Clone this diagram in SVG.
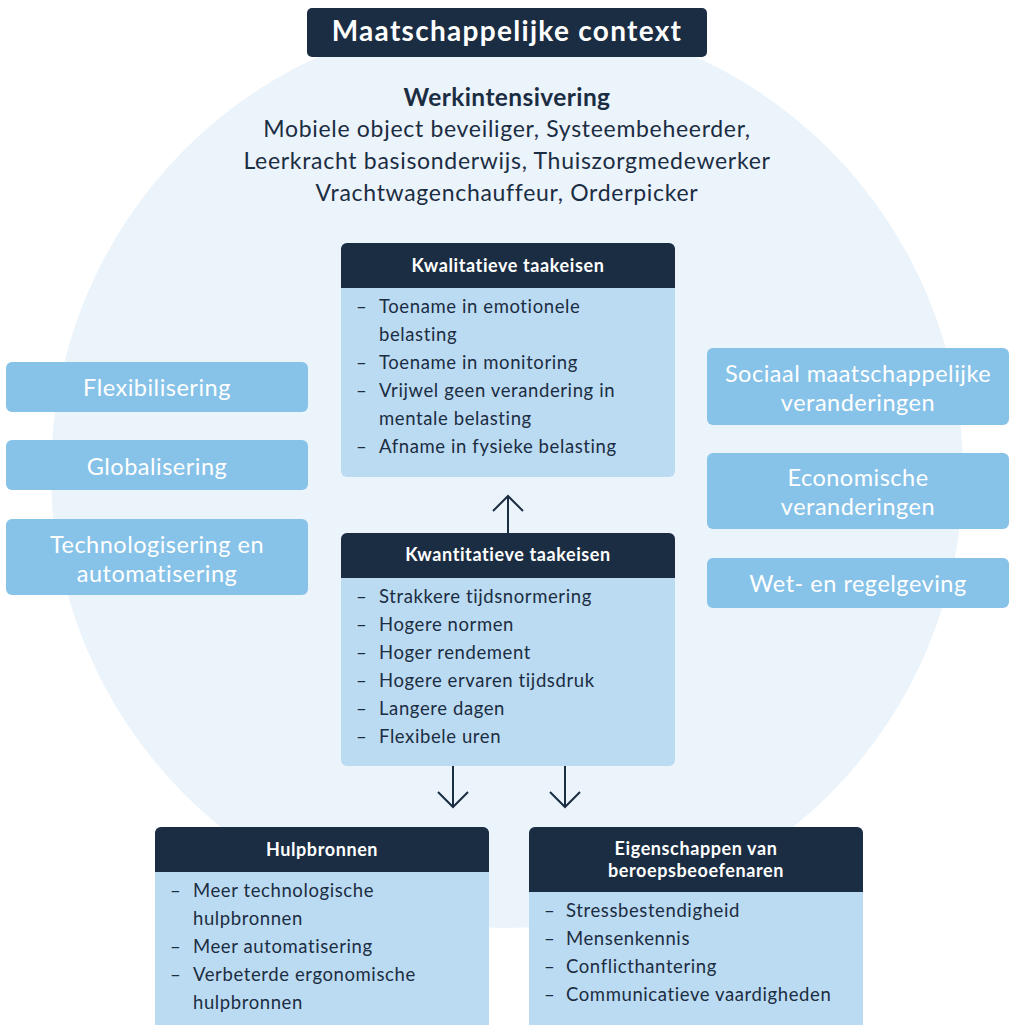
<svg xmlns="http://www.w3.org/2000/svg" width="1014" height="1025" viewBox="0 0 1014 1025">
  <defs>
    <style>
      .t { font-family: Lato, "Open Sans", "Liberation Sans", sans-serif; }
      .title { font-size: 28px; font-weight: 700; fill: #ffffff; letter-spacing: 1.3px; }
      .lead { font-size: 24.5px; font-weight: 700; fill: #1b2d42; letter-spacing: 0.4px; }
      .sub { font-size: 23px; fill: #1b2d42; letter-spacing: 0.7px; }
      .hdr { font-size: 18px; font-weight: 700; fill: #ffffff; letter-spacing: 0.6px; }
      .item { font-size: 18.5px; fill: #1b2d42; letter-spacing: 0.6px; }
      .pill { font-size: 23.5px; fill: #ffffff; letter-spacing: 0.5px; }
      .navy { fill: #1b2d42; }
      .body { fill: #bbdbf2; }
      .pillbox { fill: #87c2e8; }
      .conn { stroke: #1b2d42; stroke-width: 2; fill: none; }
    </style>
    <marker id="chev" viewBox="-16 -16 32 32" markerWidth="32" markerHeight="32" markerUnits="userSpaceOnUse" refX="0" refY="0" orient="auto">
      <path d="M -15 -15 L 0 0 L -15 15" fill="none" stroke="#1b2d42" stroke-width="2"/>
    </marker>
  </defs>

  <rect width="1014" height="1025" fill="#ffffff"/>

  <!-- context circle -->
  <circle cx="507" cy="472" r="456" fill="#ebf3fb"/>

  <!-- title -->
  <g id="title">
    <rect x="307" y="8" width="400" height="49" rx="5" class="navy"/>
    <text x="507" y="41" text-anchor="middle" class="t title">Maatschappelijke context</text>
  </g>

  <g id="werkintensivering" text-anchor="middle">
    <text x="507" y="106" class="t lead">Werkintensivering</text>
    <text x="507" y="137" class="t sub">Mobiele object beveiliger, Systeembeheerder,</text>
    <text x="507" y="169" class="t sub">Leerkracht basisonderwijs, Thuiszorgmedewerker</text>
    <text x="507" y="201" class="t sub">Vrachtwagenchauffeur, Orderpicker</text>
  </g>

  <!-- left-hand drivers -->
  <g id="flexibilisering">
    <rect x="6" y="362" width="302" height="50" rx="6" class="pillbox"/>
    <text x="157" y="396" text-anchor="middle" class="t pill">Flexibilisering</text>
  </g>
  <g id="globalisering">
    <rect x="6" y="440" width="302" height="50" rx="6" class="pillbox"/>
    <text x="157" y="475" text-anchor="middle" class="t pill">Globalisering</text>
  </g>
  <g id="technologisering">
    <rect x="6" y="519" width="302" height="76" rx="6" class="pillbox"/>
    <text x="157" y="553" text-anchor="middle" class="t pill">Technologisering en</text>
    <text x="157" y="582" text-anchor="middle" class="t pill">automatisering</text>
  </g>

  <!-- right-hand drivers -->
  <g id="sociaal">
    <rect x="707" y="348" width="302" height="77" rx="6" class="pillbox"/>
    <text x="858" y="382" text-anchor="middle" class="t pill">Sociaal maatschappelijke</text>
    <text x="858" y="411" text-anchor="middle" class="t pill">veranderingen</text>
  </g>
  <g id="economisch">
    <rect x="707" y="453" width="302" height="76" rx="6" class="pillbox"/>
    <text x="858" y="486" text-anchor="middle" class="t pill">Economische</text>
    <text x="858" y="515" text-anchor="middle" class="t pill">veranderingen</text>
  </g>
  <g id="wetgeving">
    <rect x="707" y="558" width="302" height="50" rx="6" class="pillbox"/>
    <text x="858" y="592" text-anchor="middle" class="t pill">Wet- en regelgeving</text>
  </g>

  <!-- qualitative demands -->
  <g id="kwalitatief">
    <rect x="341" y="243" width="334" height="234" rx="6" class="body"/>
    <path d="M341 288 V249 a6 6 0 0 1 6 -6 H669 a6 6 0 0 1 6 6 V288 Z" class="navy"/>
    <text x="508" y="272" text-anchor="middle" class="t hdr">Kwalitatieve taakeisen</text>
    <g class="t item">
      <text x="356" y="313">–</text><text x="379" y="313">Toename in emotionele</text>
      <text x="379" y="341">belasting</text>
      <text x="356" y="369">–</text><text x="379" y="369">Toename in monitoring</text>
      <text x="356" y="397">–</text><text x="379" y="397">Vrijwel geen verandering in</text>
      <text x="379" y="425">mentale belasting</text>
      <text x="356" y="453">–</text><text x="379" y="453">Afname in fysieke belasting</text>
    </g>
  </g>

  <!-- quantitative demands -->
  <g id="kwantitatief">
    <rect x="341" y="533" width="334" height="233" rx="6" class="body"/>
    <path d="M341 578 V539 a6 6 0 0 1 6 -6 H669 a6 6 0 0 1 6 6 V578 Z" class="navy"/>
    <text x="508" y="561" text-anchor="middle" class="t hdr">Kwantitatieve taakeisen</text>
    <g class="t item">
      <text x="356" y="603">–</text><text x="379" y="603">Strakkere tijdsnormering</text>
      <text x="356" y="631">–</text><text x="379" y="631">Hogere normen</text>
      <text x="356" y="659">–</text><text x="379" y="659">Hoger rendement</text>
      <text x="356" y="687">–</text><text x="379" y="687">Hogere ervaren tijdsdruk</text>
      <text x="356" y="715">–</text><text x="379" y="715">Langere dagen</text>
      <text x="356" y="743">–</text><text x="379" y="743">Flexibele uren</text>
    </g>
  </g>

  <!-- resources -->
  <g id="hulpbronnen">
    <rect x="155" y="827" width="334" height="210" rx="6" class="body"/>
    <path d="M155 872 V833 a6 6 0 0 1 6 -6 H483 a6 6 0 0 1 6 6 V872 Z" class="navy"/>
    <text x="322" y="856" text-anchor="middle" class="t hdr">Hulpbronnen</text>
    <g class="t item">
      <text x="170" y="897">–</text><text x="193" y="897">Meer technologische</text>
      <text x="193" y="925">hulpbronnen</text>
      <text x="170" y="953">–</text><text x="193" y="953">Meer automatisering</text>
      <text x="170" y="981">–</text><text x="193" y="981">Verbeterde ergonomische</text>
      <text x="193" y="1009">hulpbronnen</text>
    </g>
  </g>

  <!-- worker characteristics -->
  <g id="eigenschappen">
    <rect x="529" y="827" width="334" height="210" rx="6" class="body"/>
    <path d="M529 892 V833 a6 6 0 0 1 6 -6 H857 a6 6 0 0 1 6 6 V892 Z" class="navy"/>
    <text x="696" y="855" text-anchor="middle" class="t hdr">Eigenschappen van</text>
    <text x="696" y="877" text-anchor="middle" class="t hdr">beroepsbeoefenaren</text>
    <g class="t item">
      <text x="544" y="917">–</text><text x="566" y="917">Stressbestendigheid</text>
      <text x="544" y="945">–</text><text x="566" y="945">Mensenkennis</text>
      <text x="544" y="973">–</text><text x="566" y="973">Conflicthantering</text>
      <text x="544" y="1001">–</text><text x="566" y="1001">Communicatieve vaardigheden</text>
    </g>
  </g>

  <!-- connectors -->
  <g id="connectors" class="conn">
    <line x1="508" y1="533" x2="508" y2="496" marker-end="url(#chev)"/>
    <line x1="453" y1="766" x2="453" y2="807" marker-end="url(#chev)"/>
    <line x1="565" y1="766" x2="565" y2="807" marker-end="url(#chev)"/>
  </g>
</svg>
